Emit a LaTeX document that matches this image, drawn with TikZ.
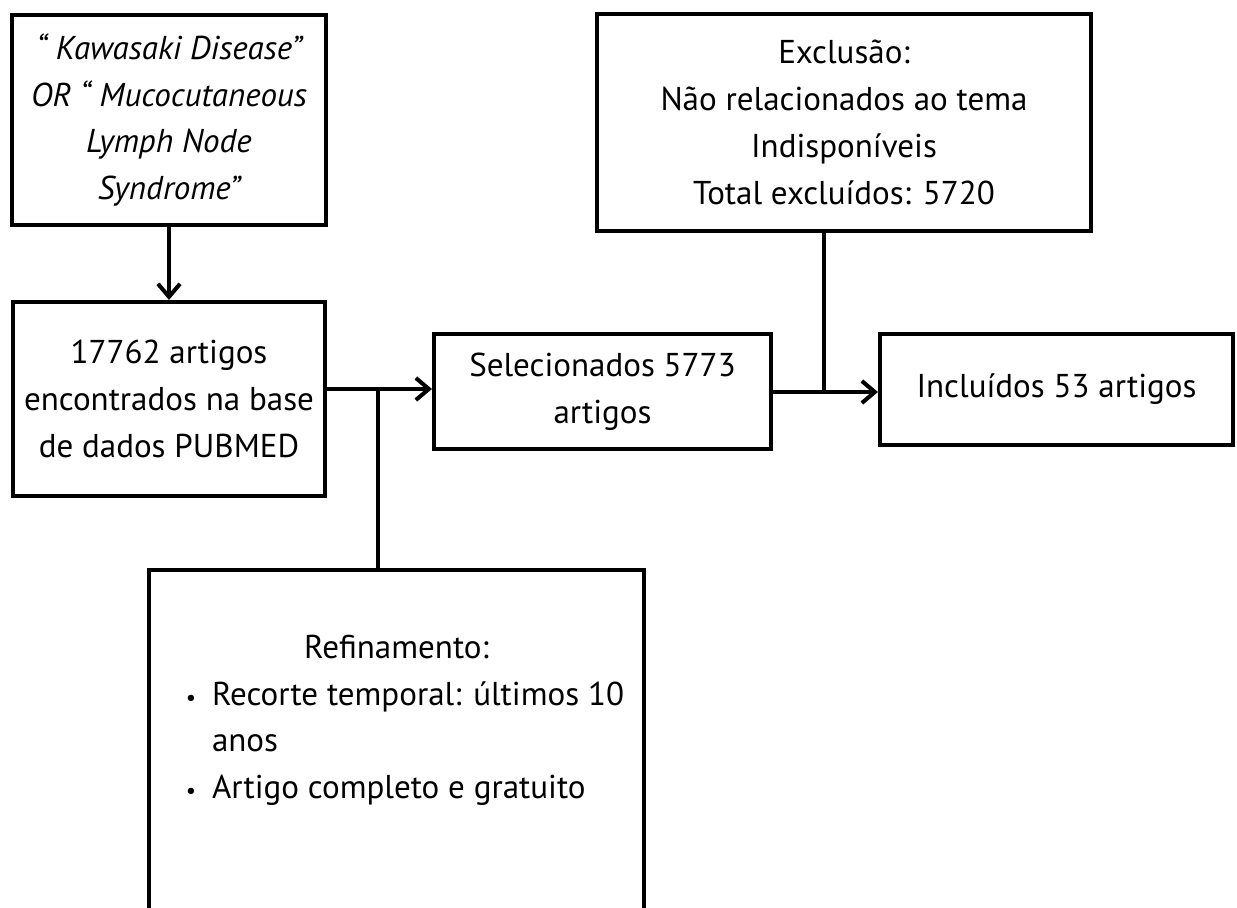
\documentclass[tikz,border=0pt]{standalone}
\usepackage{fontspec}
\setmainfont{PT Sans}
\usetikzlibrary{arrows.meta}
\newcommand{\flowbox}[6] {
    \node[stepbox,minimum width={#3*0.02cm},minimum height={#4*0.02cm}] (#5) at ({#1}, {#2}) {#6};
}
\newcommand{\itembullet} {\leavevmode\llap{\makebox[0.84cm]{\fontsize{13}{13}\selectfont •}}}
\tikzset{
    stepbox/.style={
        draw,
        line width=2.3pt,
        align=center,
        inner sep=0mm,
        font=\fontsize{18.8}{26.6}\selectfont
    },
    wire/.style={line width=2.3pt},
    arr/.style={wire,-{Straight Barb[length=2.6mm,width=4.4mm]}}
}

\begin{document}
\begin{tikzpicture}[x=0.02cm,y=-0.02cm]
        \path[use as bounding box,clip] (0,0) rectangle (1237,908);
        \flowbox{169}{120}{314}{210}{query}{\itshape “ Kawasaki Disease”\\\itshape OR “ Mucocutaneous\\\itshape Lymph Node\\\itshape Syndrome”}
        \flowbox{169}{399}{312}{194}{found}{17762 artigos\\encontrados na base\\de dados PUBMED}
        \flowbox{602.5}{391.5}{337}{115}{sel}{Selecionados 5773\\artigos}
        \flowbox{844}{122.5}{494}{217}{excl}{Exclusão:\\Não relacionados ao tema\\Indisponíveis\\Total excluídos: 5720}
        \flowbox{1056.5}{389.5}{353}{111}{incl}{Incluídos 53 artigos}
        \node[stepbox,anchor=north] (refine) at (396.5,568) {\parbox[t][8.8cm][t]{9.9cm}{%
            \vspace*{1.30cm}
            {\centering Refinamento:\par}
            \raggedright\leftskip=1.26cm
            \itembullet Recorte temporal: últimos 10\\anos\par
            \itembullet Artigo completo e gratuito\par}};
        \coordinate (fork1) at (378,389);
        \coordinate (fork2) at (824,392);
        \draw[arr] (query) -- (found);
        \draw[arr] (found.east |- fork1) -- (sel.west |- fork1);
        \draw[wire] (fork1) -- (fork1 |- refine.north);
        \draw[arr] (sel.east |- fork2) -- (incl.west |- fork2);
        \draw[wire] (fork2 |- excl.south) -- (fork2);
\end{tikzpicture}
\end{document}
